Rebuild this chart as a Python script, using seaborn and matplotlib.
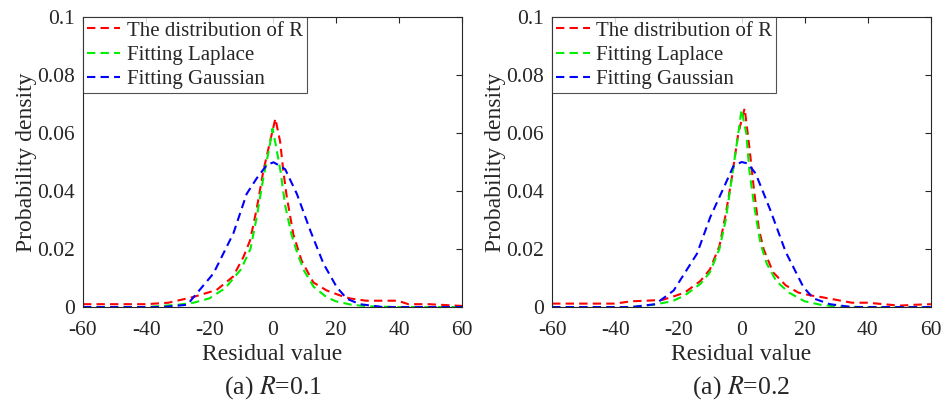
import matplotlib
matplotlib.use("Agg")
import matplotlib.pyplot as plt
import seaborn as sns
import numpy as np
import pandas as pd

# ---- data ----
# panel (a) R=0.1
x_red_1 = [-60, -40, -33, -25, -17.7, -12.5, -9.2, -7.1, -5, -2.9, -0.8, 0.9, 2.4, 3.4, 4.5, 6.6, 9.2, 12.9, 17.2, 21.4, 24.4, 29.6, 39.6, 43, 49.4, 60]
y_red_1 = [0.001, 0.001, 0.0015, 0.0035, 0.0059, 0.0105, 0.0173, 0.023, 0.034, 0.047, 0.057, 0.065, 0.057, 0.047, 0.038, 0.025, 0.016, 0.0085, 0.0057, 0.004, 0.003, 0.0022, 0.0022, 0.001, 0.001, 0.0004]
x_green_1 = [-60, -40, -30, -25, -20, -15, -10, -7, -5, -3, -1, 0, 1, 2.5, 4, 6, 8, 10, 13, 17, 20, 25, 30, 40, 60]
y_green_1 = [0, 0, 0.0008, 0.0015, 0.003, 0.0065, 0.013, 0.02, 0.031, 0.044, 0.055, 0.0615, 0.056, 0.047, 0.035, 0.025, 0.018, 0.0125, 0.007, 0.0035, 0.002, 0.0008, 0.0003, 0, 0]
x_blue_1 = [-60, -35, -27, -24, -18.7, -12.4, -8.2, -5, -1.8, 0.3, 1.8, 4, 7.7, 11.9, 16.1, 20.3, 23.5, 27.6, 35, 60]
y_blue_1 = [0, 0, 0.0008, 0.0047, 0.0116, 0.0254, 0.039, 0.0444, 0.049, 0.0499, 0.049, 0.0475, 0.039, 0.0265, 0.015, 0.0069, 0.0029, 0.001, 0, 0]

# panel (b) R=0.2
x_red_2 = [-60, -40, -35, -30, -25, -22, -18, -13, -10, -7, -5, -3, -1, 1, 2.5, 4, 5.5, 7, 10, 14, 18, 22, 25, 30, 35, 40, 45, 50, 55, 60]
y_red_2 = [0.0012, 0.0012, 0.002, 0.0022, 0.0025, 0.0035, 0.005, 0.009, 0.013, 0.021, 0.032, 0.045, 0.06, 0.0685, 0.055, 0.04, 0.027, 0.02, 0.012, 0.0075, 0.005, 0.004, 0.0035, 0.0025, 0.0015, 0.0015, 0.001, 0.0005, 0.0008, 0.001]
x_green_2 = [-60, -35, -28, -22, -18, -13, -10, -7, -5, -3, -1, 0, 1.5, 2.5, 4, 6, 8, 11, 15, 20, 25, 30, 40, 60]
y_green_2 = [0, 0, 0.0008, 0.002, 0.004, 0.008, 0.012, 0.02, 0.03, 0.045, 0.06, 0.068, 0.06, 0.047, 0.035, 0.022, 0.015, 0.009, 0.005, 0.002, 0.0008, 0.0002, 0, 0]
x_blue_2 = [-60, -35, -27.3, -21.5, -14.1, -9.9, -5.7, -2.6, 0, 2, 4.5, 9.1, 14, 19.6, 22.8, 28, 35, 60]
y_blue_2 = [0, 0, 0.001, 0.0057, 0.0184, 0.031, 0.041, 0.0485, 0.05, 0.0495, 0.046, 0.0335, 0.019, 0.0069, 0.003, 0.001, 0, 0]

series_names = ["The distribution of R", "Fitting Laplace", "Fitting Gaussian"]
series_colors = ["#ff0000", "#00ee00", "#0000ff"]
captions = ["(a) $R$=0.1", "(a) $R$=0.2"]
xticks = [-60, -40, -20, 0, 20, 40, 60]
yticks = [0, 0.02, 0.04, 0.06, 0.08, 0.1]
ytick_labels = ["0", "0.02", "0.04", "0.06", "0.08", "0.1"]

panels = [
    [(x_red_1, y_red_1), (x_green_1, y_green_1), (x_blue_1, y_blue_1)],
    [(x_red_2, y_red_2), (x_green_2, y_green_2), (x_blue_2, y_blue_2)],
]

sns.set_style("white")
plt.rcParams["font.family"] = ["Liberation Serif", "DejaVu Serif"]
plt.rcParams["mathtext.fontset"] = "stix"

fig = plt.figure(figsize=(9.47, 4.03), dpi=100)
ax_pos = [[0.0876, 0.238, 0.4004, 0.720], [0.583, 0.238, 0.400, 0.720]]

for i, curves in enumerate(panels):
    ax = fig.add_axes(ax_pos[i])
    for (xs, ys), name, col in zip(curves, series_names, series_colors):
        df = pd.DataFrame({"x": xs, "y": ys})
        sns.lineplot(data=df, x="x", y="y", ax=ax, color=col, label=name,
                     linewidth=1.5, dashes=False, sort=False)
        ax.lines[-1].set_dashes((4, 2.5))
    ax.set_xlim(-60, 60)
    ax.set_ylim(0, 0.1)
    ax.set_xticks(xticks)
    ax.set_xticklabels([str(t) for t in xticks])
    ax.set_yticks(yticks)
    ax.set_yticklabels(ytick_labels)
    ax.tick_params(direction="in", length=4, width=0.8, colors="#262626",
                   labelsize=15.5, top=True, right=True)
    ax.tick_params(axis="x", pad=10)
    ax.tick_params(axis="y", pad=6)
    for sp in ax.spines.values():
        sp.set_color("#262626")
        sp.set_linewidth(0.8)
    ax.set_xlabel("Residual value", fontsize=17, color="#262626", labelpad=3)
    ax.set_ylabel("Probability density", fontsize=17, color="#262626", labelpad=0)
    leg = ax.legend(loc="upper left", fontsize=15, frameon=True, fancybox=False,
                    borderaxespad=0, borderpad=0.2, handlelength=1.6,
                    handletextpad=0.3, labelspacing=0.22)
    leg.get_frame().set_edgecolor("#262626")
    leg.get_frame().set_linewidth(0.8)
    for h in leg.get_lines():
        h.set_dashes((4, 2.5))
    cx = ax_pos[i][0] + ax_pos[i][2] / 2
    fig.text(cx, 0.038, captions[i], ha="center", va="center", fontsize=18.5, color="#262626")

fig.savefig("out.png", dpi=100)
